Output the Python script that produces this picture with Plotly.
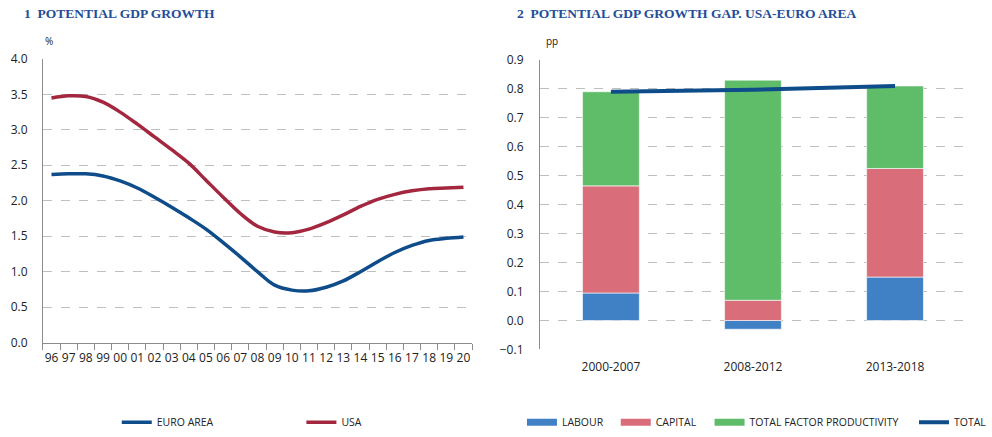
import plotly.graph_objects as go

# ---- data ----
YEARS = ["96", "97", "98", "99", "00", "01", "02", "03", "04", "05", "06", "07", "08",
         "09", "10", "11", "12", "13", "14", "15", "16", "17", "18", "19", "20"]
EURO_AREA = [2.37, 2.38, 2.38, 2.35, 2.28, 2.18, 2.05, 1.91, 1.76, 1.60, 1.41, 1.21, 1.00,
             0.81, 0.74, 0.73, 0.78, 0.87, 1.00, 1.14, 1.27, 1.37, 1.44, 1.47, 1.49]
USA = [3.45, 3.48, 3.47, 3.39, 3.25, 3.08, 2.90, 2.72, 2.53, 2.29, 2.05, 1.82, 1.64,
       1.56, 1.55, 1.60, 1.69, 1.80, 1.92, 2.02, 2.09, 2.14, 2.17, 2.18, 2.19]

PERIODS = ["2000-2007", "2008-2012", "2013-2018"]
LABOUR = [0.095, -0.03, 0.15]
CAPITAL = [0.37, 0.07, 0.375]
TFP = [0.325, 0.76, 0.285]
TOTAL = [0.79, 0.797, 0.81]

# ---- colours ----
C_EA = "#0E4C8A"
C_USA = "#A3283F"
C_LAB = "#4080C4"
C_CAP = "#D96E7A"
C_TFP = "#5FBD6A"
C_TOT = "#0E4C8A"
TITLE_COL = "#1F4E9A"
GRID = "#BFBFBF"
AXIS = "#8C8C8C"

W, H = 992, 437


def px_x(p):
    return p / W


def px_y(p):
    return (H - p) / H


fig = go.Figure()

# ===== chart 1: lines =====
fig.add_trace(go.Scatter(x=YEARS, y=EURO_AREA, name="EURO AREA", mode="lines",
                         line=dict(color=C_EA, width=3.5, shape="spline"),
                         xaxis="x", yaxis="y", legend="legend"))
fig.add_trace(go.Scatter(x=YEARS, y=USA, name="USA", mode="lines",
                         line=dict(color=C_USA, width=3.5, shape="spline"),
                         xaxis="x", yaxis="y", legend="legend2"))

# ===== chart 2: stacked bars + total =====
bar_specs = [("LABOUR", LABOUR, C_LAB, "legend3"),
             ("CAPITAL", CAPITAL, C_CAP, "legend4"),
             ("TOTAL FACTOR PRODUCTIVITY", TFP, C_TFP, "legend5")]
for name, vals, col, leg in bar_specs:
    fig.add_trace(go.Bar(x=PERIODS, y=vals, name=name, width=0.4, legendgroup=name,
                         showlegend=False,
                         marker=dict(color=col, line=dict(color="white", width=0.6)),
                         xaxis="x2", yaxis="y2"))
    # flat rectangle swatch for the legend, as in the original
    fig.add_trace(go.Scatter(x=[None], y=[None], name=name, mode="lines", legendgroup=name,
                             line=dict(color=col, width=7),
                             xaxis="x2", yaxis="y2", legend=leg))
fig.add_trace(go.Scatter(x=PERIODS, y=TOTAL, name="TOTAL", mode="lines",
                         line=dict(color=C_TOT, width=4),
                         xaxis="x2", yaxis="y2", legend="legend6"))

tick_font = dict(family="Open Sans, sans-serif", size=12, color="#222222")
leg_font = dict(family="Open Sans, sans-serif", size=10.5, color="#222222")

y1_dom = [px_y(349), px_y(60)]
y2_dom = [px_y(356), px_y(61)]
# paper position of the 0 line on chart 2
zero_pos = y2_dom[0] + (0 - (-0.1)) / 1.0 * (y2_dom[1] - y2_dom[0])


def leg(text_x):
    # legend entry whose text starts at x = text_x
    return dict(orientation="h", x=px_x(text_x - 40), y=px_y(430), xanchor="left",
                yanchor="middle", font=leg_font, bgcolor="rgba(0,0,0,0)", itemwidth=30)


fig.update_layout(
    width=W, height=H,
    margin=dict(l=0, r=0, t=0, b=0),
    plot_bgcolor="white", paper_bgcolor="white",
    barmode="relative",
    xaxis=dict(domain=[px_x(43), px_x(473)], anchor="y", type="category", automargin=False,
               range=[-0.5, 24.5], showline=True, linecolor=AXIS, linewidth=1,
               ticks="outside", tickson="boundaries", ticklen=6, tickcolor=AXIS,
               showgrid=False, tickfont=tick_font, tickangle=0, ticklabelstandoff=4),
    yaxis=dict(domain=y1_dom, anchor="x", range=[0, 4], dtick=0.5, tickformat=".1f",
               automargin=False,
               showline=True, linecolor=AXIS, linewidth=1, ticks="",
               showgrid=True, gridcolor=GRID, griddash="dash", gridwidth=1,
               zeroline=False, tickfont=tick_font, ticklabelstandoff=12),
    xaxis2=dict(domain=[px_x(541), px_x(968)], anchor="y2", type="category", automargin=False,
                range=[-0.5, 2.5], showline=False, ticks="", showgrid=False,
                tickfont=tick_font, tickangle=0, ticklabelstandoff=9),
    xaxis3=dict(domain=[px_x(541), px_x(968)], anchor="free", position=zero_pos,
                overlaying="x2", range=[-0.5, 2.5], tickvals=[-0.5, 0.5, 1.5, 2.5],
                automargin=False,
                showticklabels=False, showline=True, linecolor=AXIS, linewidth=1,
                ticks="outside", ticklen=5, tickcolor=AXIS, showgrid=False),
    yaxis2=dict(domain=y2_dom, anchor="x2", range=[-0.1, 0.9], dtick=0.1, tickformat=".1f",
                automargin=False,
                showline=True, linecolor=AXIS, linewidth=1, ticks="",
                showgrid=True, gridcolor=GRID, griddash="dash", gridwidth=1,
                zeroline=False, tickfont=tick_font, ticklabelstandoff=13),
    legend=leg(157),
    legend2=leg(342),
    legend3=leg(563),
    legend4=leg(657),
    legend5=leg(751),
    legend6=leg(956),
    annotations=[
        dict(text="1  POTENTIAL GDP GROWTH", x=px_x(22), y=px_y(14), xref="paper", yref="paper",
             xanchor="left", yanchor="middle", showarrow=False,
             font=dict(family="Liberation Serif, Times New Roman, serif", size=13.5,
                       color=TITLE_COL, weight="bold")),
        dict(text="2  POTENTIAL GDP GROWTH GAP. USA-EURO AREA", x=px_x(516), y=px_y(14),
             xref="paper", yref="paper", xanchor="left", yanchor="middle", showarrow=False,
             font=dict(family="Liberation Serif, Times New Roman, serif", size=13.5,
                       color=TITLE_COL, weight="bold")),
        dict(text="%", x=px_x(43), y=px_y(42), xref="paper", yref="paper",
             xanchor="left", yanchor="middle", showarrow=False,
             font=dict(family="Open Sans, sans-serif", size=10, color="#222222")),
        dict(text="pp", x=px_x(545), y=px_y(42), xref="paper", yref="paper",
             xanchor="left", yanchor="middle", showarrow=False,
             font=dict(family="Open Sans, sans-serif", size=10, color="#222222")),
    ],
)

# drop the default page margin so the figure fills the window exactly
fig.write_html("out.html", config={"displayModeBar": False},
               post_script="document.body.style.margin='0';document.body.style.overflow='hidden';")
